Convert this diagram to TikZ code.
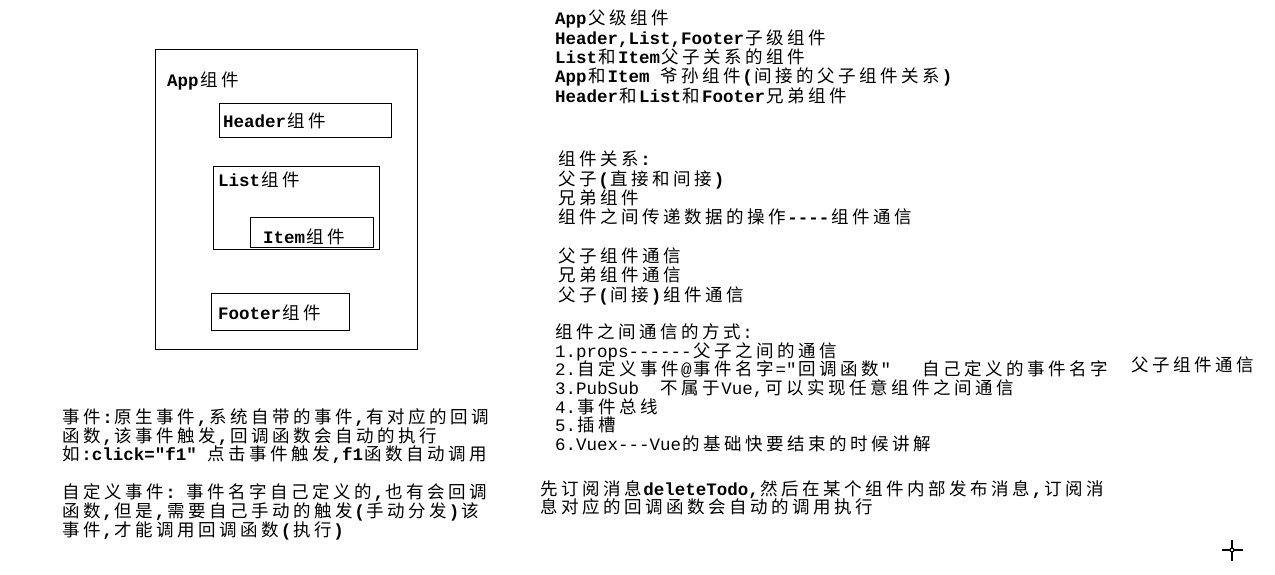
\documentclass[tikz,border=0pt]{standalone}
\usepackage{fontspec}
\setmonofont{Liberation Mono}
\newfontfamily\hanfont{Noto Sans CJK SC}
\usetikzlibrary{positioning}

% latin in mono, chinese in noto
\def\latfont{\ttfamily\bfseries}
\XeTeXinterchartokenstate=1
\newXeTeXintercharclass\hanclass
\newcount\hancnt
\hancnt="4E00
\loop
  \XeTeXcharclass\hancnt=\hanclass
  \advance\hancnt by 1
\ifnum\hancnt<"A000 \repeat
\XeTeXinterchartoks 0 \hanclass = {\hanfont\mdseries\kern1.75pt}
\XeTeXinterchartoks 4095 \hanclass = {\hanfont\mdseries}
\XeTeXinterchartoks \hanclass 0 = {\kern1.75pt\latfont}
\XeTeXinterchartoks 4095 0 = {\latfont}
\XeTeXinterchartoks \hanclass \hanclass = {\kern3.5pt}

\begin{document}
\begin{tikzpicture}[x=1pt,y=-1pt,
    box/.style={draw,line width=1.2pt,inner sep=0pt,anchor=north west},
    txt/.style={anchor=base west,inner sep=0pt,align=left,
      font=\fontsize{17.5}{19.3}\selectfont\latfont}]
  \useasboundingbox (0,0) rectangle (1275,574);

  % component boxes
  \node[box,minimum width=262,minimum height=300] (app) at (155,49) {};
  \node[box,minimum width=172,minimum height=34] (header) at (219,103) {};
  \node[box,minimum width=166,minimum height=83] (list) at (213,166) {};
  \node[box,minimum width=123,minimum height=30] (item) at (250,217) {};
  \node[box,minimum width=138,minimum height=37] (footer) at (211,293) {};

  \node[txt] (appname) at (167,86) {App组件};
  \node[txt] (headername) at (223,127) {Header组件};
  \node[txt] (listname) at (218,186) {List组件};
  \node[txt] (itemname) at (263,243) {Item组件};
  \node[txt] (footername) at (218,319) {Footer组件};

  % notes (base = last line)
  \node[txt] (tree) at (555,102) {App父级组件\\
    Header,List,Footer子级组件\\
    List和Item父子关系的组件\\
    App和Item 爷孙组件(间接的父子组件关系)\\
    Header和List和Footer兄弟组件};

  \node[txt] (relation) at (558,301) {组件关系:\\
    父子(直接和间接)\\
    兄弟组件\\
    组件之间传递数据的操作----组件通信\\[19.3pt]
    父子组件通信\\
    兄弟组件通信\\
    父子(间接)组件通信};

  \node[txt,font={\fontsize{17.5}{18.7}\selectfont\def\latfont{\ttfamily\mdseries}\latfont}] (ways) at (555,450.5) {组件之间通信的方式:\\
    1.props------父子之间的通信\\
    2.自定义事件@事件名字="回调函数"~~~自己定义的事件名字\\
    3.PubSub~~不属于Vue,可以实现任意组件之间通信\\
    4.事件总线\\
    5.插槽\\
    6.Vuex---Vue的基础快要结束的时候讲解};
  \node[txt] (waysnote) at (1131,371.5) {父子组件通信};

  \node[txt,font=\fontsize{17.5}{18.8}\selectfont\latfont] (events) at (62,536) {事件:原生事件,系统自带的事件,有对应的回调\\
    函数,该事件触发,回调函数会自动的执行\\
    如:click="f1" 点击事件触发,f1函数自动调用\\[18.8pt]
    自定义事件: 事件名字自己定义的,也有会回调\\
    函数,但是,需要自己手动的触发(手动分发)该\\
    事件,才能调用回调函数(执行)};

  \node[txt,font=\fontsize{17.5}{18}\selectfont\latfont] (pubsub) at (540,513) {先订阅消息deleteTodo,然后在某个组件内部发布消息,订阅消\\
    息对应的回调函数会自动的调用执行};

  % cursor
  \draw[line width=1.2pt] (1222,550) -- (1243,550) (1232,540) -- (1232,561);
  \draw[line width=0.8pt,fill=white] (1230.5,548.5) rectangle (1233.5,551.5);
\end{tikzpicture}
\end{document}
